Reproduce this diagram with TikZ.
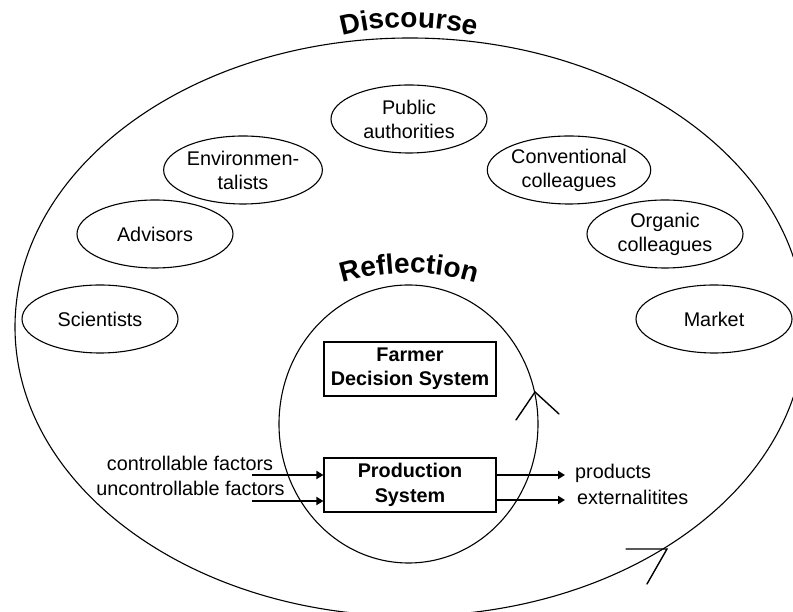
\documentclass[tikz,border=0pt]{standalone}
\usepackage{fontspec}
\setmainfont{Liberation Sans}
\usetikzlibrary{shapes.geometric,arrows.meta,decorations.text}
\tikzset{
  ring/.style={line width=1.1pt},
  actor/.style={draw, ellipse, line width=1.1pt, minimum width=156pt, minimum height=68pt, inner sep=0pt, align=center, font=\fontsize{19.8}{24}\selectfont},
  sysbox/.style={draw, rectangle, line width=1.1pt, minimum width=172pt, minimum height=54pt, inner sep=0pt, align=center, font=\fontsize{19.8}{24.5}\selectfont\bfseries},
  flow/.style={line width=2.4pt, -{Triangle[length=7pt,width=8pt]}},
  lbl/.style={inner sep=0pt, font=\fontsize{19.8}{24}\selectfont},
  barb/.style={line width=1.4pt, line cap=round},
}
\begin{document}
\begin{tikzpicture}[x=1pt,y=1pt]
\useasboundingbox (0,0) rectangle (793,612);
\fill[white] (0,0) rectangle (793,612);
\clip (0,0) rectangle (793,612);
% outer discourse ellipse and inner reflection circle
\draw[ring] (410,285) ellipse [x radius=395pt, y radius=289pt];
\draw[ring] (408.5,188) ellipse [x radius=129.5pt, y radius=139pt];
% curved titles
\coordinate (dstart) at (278.5,550);
\path[decorate, decoration={text along path, text align=center,
  text={|\fontsize{28}{30}\selectfont\bfseries|Discourse}}]
  (dstart) arc[start angle=120, end angle=60, radius=261pt];
\coordinate (rstart) at (277.7,297.6);
\path[decorate, decoration={text along path, text align=center,
  text={|\fontsize{28}{30}\selectfont\bfseries|Reflection}}]
  (rstart) arc[start angle=125, end angle=55, radius=229pt];
% actors
\node[actor] (pub) at (409,493) {Public\\authorities};
\node[actor] (env) at (243,442) {Environmen-\\talists};
\node[actor] (conv) at (569,442) {Conventional\\colleagues};
\node[actor] (adv) at (155,378) {Advisors};
\node[actor] (org) at (665,378) {Organic\\colleagues};
\node[actor] (sci) at (100,293) {Scientists};
\node[actor] (mkt) at (714,293) {Market};
% systems
\node[sysbox] (fds) at (410,243) {Farmer\\Decision System};
\node[sysbox] (prod) at (410,127) {Production\\System};
% inputs
\coordinate (in1) at (252,137);
\coordinate (in2) at (252,111);
\draw[flow] (in1) -- (in1 -| prod.west);
\draw[flow] (in2) -- (in2 -| prod.west);
\node[lbl, anchor=base] (lc) at (190,141) {controllable factors};
\node[lbl, anchor=base] (lu) at (190.5,116) {uncontrollable factors};
% outputs
\coordinate (out1) at (565,137);
\coordinate (out2) at (565,112);
\draw[flow] (out1 -| prod.east) -- (out1);
\draw[flow] (out2 -| prod.east) -- (out2);
\node[lbl, anchor=base west] (lp) at (575,133) {products};
\node[lbl, anchor=base west] (le) at (577,107) {externalitites};
% arrowheads on the cycles
\coordinate (itip) at (535,220);
\coordinate (ib1) at (516,192);
\coordinate (ib2) at (559,198);
\draw[barb] (ib1) -- (itip) -- (ib2);
\coordinate (otip) at (667,63);
\coordinate (ob1) at (626,63);
\coordinate (ob2) at (647,28);
\draw[barb] (ob1) -- (otip) -- (ob2);
\end{tikzpicture}
\end{document}
